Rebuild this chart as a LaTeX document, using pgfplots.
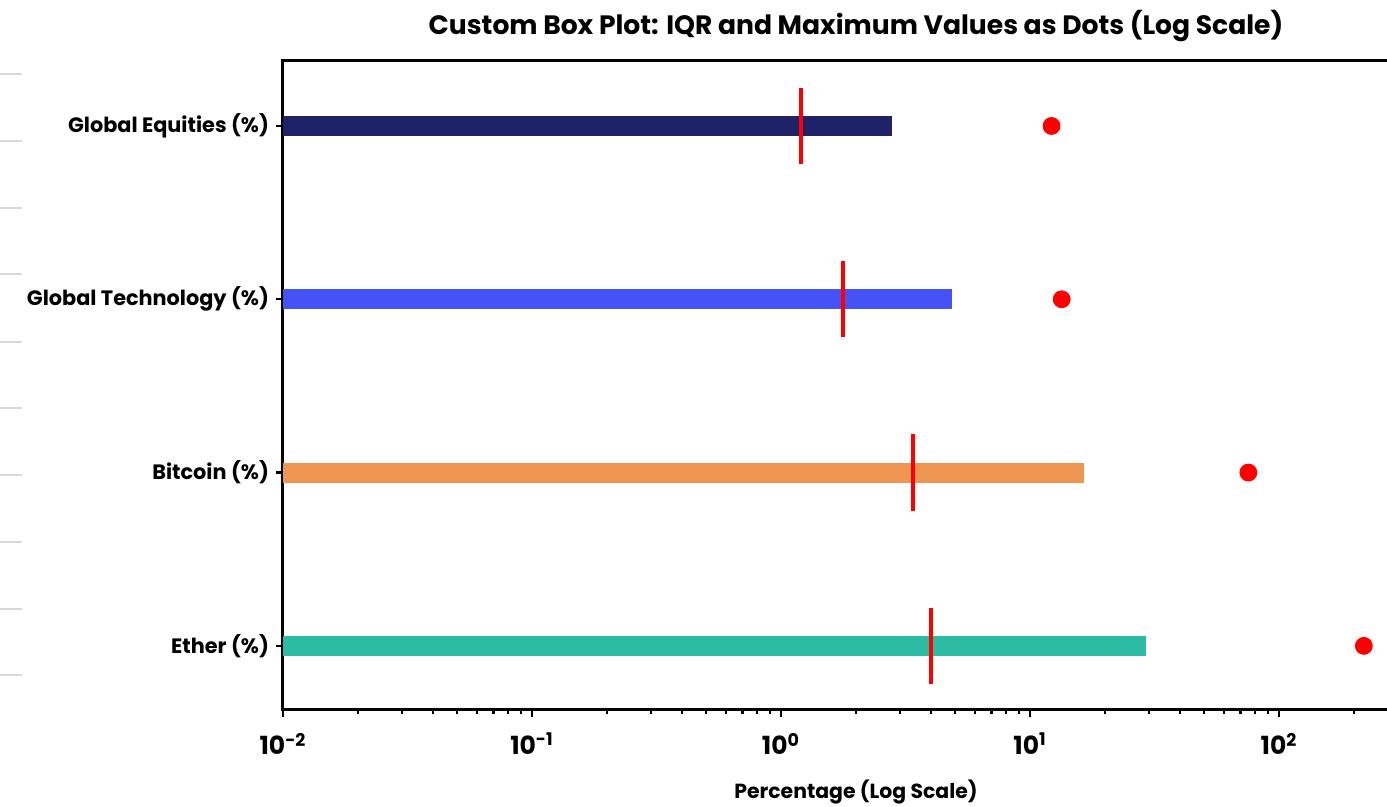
\documentclass[border=0pt]{standalone}
\usepackage{fontspec}
\setmainfont{Poppins}
\usepackage{pgfplots}
\pgfplotsset{compat=1.18}
\definecolor{eqcol}{RGB}{30,34,102}
\definecolor{techcol}{RGB}{69,82,245}
\definecolor{btccol}{RGB}{238,149,82}
\definecolor{ethcol}{RGB}{45,187,166}
\definecolor{gridgray}{RGB}{215,215,215}
\begin{document}
\begin{tikzpicture}
\begin{axis}[
  scale only axis, width=573pt, height=324.5pt,
  xmode=log, xmin=0.01, xmax=400,
  ymin=-0.37, ymax=3.375,
  ytick={0,1,2,3},
  yticklabels={Ether (\%), Bitcoin (\%), Global Technology (\%), Global Equities (\%)},
  xtick={0.01,0.1,1,10,100},
  xticklabels={10\textsuperscript{-2},10\textsuperscript{-1},10\textsuperscript{0},10\textsuperscript{1},10\textsuperscript{2}},
  minor xtick={0.02,0.03,0.04,0.05,0.06,0.07,0.08,0.09,0.2,0.3,0.4,0.5,0.6,0.7,0.8,0.9,2,3,4,5,6,7,8,9,20,30,40,50,60,70,80,90,200,300,400},
  tick align=outside, xtick pos=bottom, ytick pos=left,
  major tick length=3.5pt, minor tick length=2pt,
  every tick/.style={black, line width=1.1pt},
  axis line style={line width=1.5pt},
  title={Custom Box Plot: IQR and Maximum Values as Dots (Log Scale)},
  title style={font=\bfseries\fontsize{13.3}{15}\selectfont, at={(0.5,1)}, anchor=base, yshift=7pt},
  xlabel={Percentage (Log Scale)},
  xlabel style={font=\bfseries\fontsize{10.2}{12}\selectfont, at={(0.5,0)}, anchor=base, yshift=-44.5pt},
  yticklabel style={font=\bfseries\fontsize{10.4}{12}\selectfont},
  xticklabel style={font=\bfseries\fontsize{12.5}{14}\selectfont, yshift=-4.5pt},
  clip=false,
]
% IQR bars (from axis start to upper quartile)
\addplot[eqcol, line width=10pt] coordinates {(0.01,3) (2.78,3)};
\addplot[techcol, line width=10pt] coordinates {(0.01,2) (4.87,2)};
\addplot[btccol, line width=10pt] coordinates {(0.01,1) (16.5,1)};
\addplot[ethcol, line width=10pt] coordinates {(0.01,0) (29.2,0)};
% medians
\addplot[red, line width=2pt] coordinates {(1.20,2.78) (1.20,3.22)};
\addplot[red, line width=2pt] coordinates {(1.77,1.78) (1.77,2.22)};
\addplot[red, line width=2pt] coordinates {(3.38,0.78) (3.38,1.22)};
\addplot[red, line width=2pt] coordinates {(4.00,-0.22) (4.00,0.22)};
% maxima
\addplot[only marks, mark=*, mark size=4.25pt, red] coordinates {(12.2,3) (13.4,2) (75.3,1) (219,0)};
% stray gray marks at the far left of the figure
\pgfplotsinvokeforeach{0.97997,0.87673,0.77350,0.67180,0.56703,0.46533,0.36210,0.25886,0.15562,0.05393}{
  \draw[gridgray, line width=0.6pt] (rel axis cs:-0.24695,#1) -- (rel axis cs:-0.22775,#1);
}
\coordinate (BL) at (rel axis cs:-0.24695,-0.14946);
\coordinate (TR) at (rel axis cs:0.96335,1.09399);
\end{axis}
\pgfresetboundingbox
\path[use as bounding box] (BL) rectangle (TR);
\end{tikzpicture}
\end{document}
